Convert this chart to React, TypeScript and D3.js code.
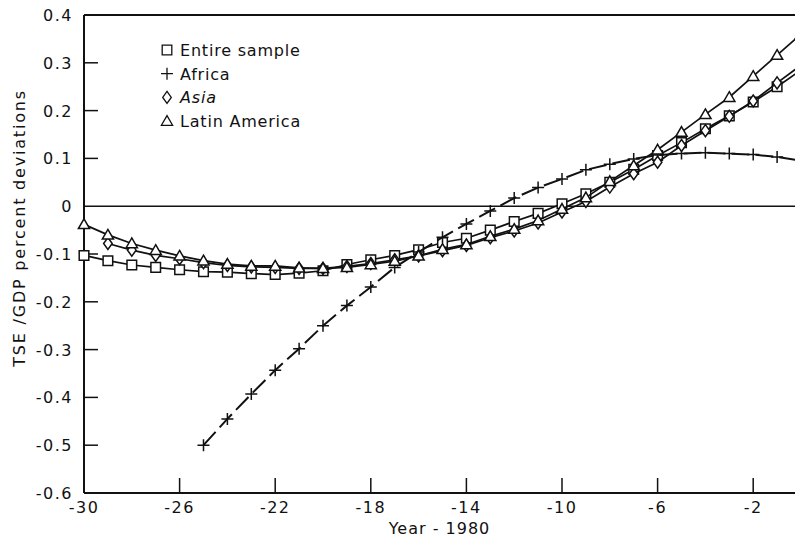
import React, { useEffect, useRef } from 'react';
import * as d3 from 'd3';

const years = d3.range(-30, 1);

// null where a series has no point
const entireSample = [
    -0.103, -0.114, -0.123, -0.128, -0.133, -0.137, -0.138, -0.141, -0.143, -0.140,
    -0.135, -0.122, -0.112, -0.103, -0.091, -0.076, -0.067, -0.050, -0.032, -0.015,
    0.005, 0.026, 0.050, 0.077, 0.106, 0.133, 0.162, 0.189, 0.218, 0.250, 0.285,
];
const africa = [
    null, null, null, null, null, -0.500, -0.445, -0.393, -0.343, -0.298,
    -0.250, -0.208, -0.169, -0.128, -0.096, -0.065, -0.037, -0.010, 0.017, 0.039,
    0.057, 0.076, 0.088, 0.099, 0.107, 0.110, 0.112, 0.110, 0.108, 0.103, 0.095,
];
const asia = [
    null, -0.078, -0.092, -0.103, -0.110, -0.118, -0.124, -0.127, -0.128, -0.130,
    -0.130, -0.126, -0.120, -0.112, -0.104, -0.093, -0.082, -0.066, -0.052, -0.035,
    -0.012, 0.010, 0.040, 0.068, 0.092, 0.127, 0.158, 0.188, 0.220, 0.258, 0.295,
];
const latinAmerica = [
    -0.038, -0.060, -0.078, -0.092, -0.104, -0.114, -0.121, -0.125, -0.125, -0.129,
    -0.130, -0.128, -0.122, -0.115, -0.104, -0.090, -0.080, -0.063, -0.048, -0.030,
    -0.006, 0.018, 0.052, 0.085, 0.118, 0.155, 0.192, 0.228, 0.272, 0.316, 0.360,
];

const xTicks = [-30, -26, -22, -18, -14, -10, -6, -2];
const yTicks = [0.4, 0.3, 0.2, 0.1, 0, -0.1, -0.2, -0.3, -0.4, -0.5, -0.6];

const seriesNames = ['Entire sample', 'Africa', 'Asia', 'Latin America'];

const markerPath: Record<string, string> = {
    square: 'M-4.8,-4.8H4.8V4.8H-4.8Z',
    plus: 'M-6,0H6M0,-6V6',
    diamond: 'M0,-6L4.3,0L0,6L-4.3,0Z',
    triangle: 'M0,-5.5L5.6,4.2L-5.6,4.2Z',
};

const FONT = '"DejaVu Sans", sans-serif';

const App: React.FC = () => {
    const chartRef = useRef<SVGSVGElement>(null);

    useEffect(() => {
        if (!chartRef.current) return;
        document.body.style.margin = '0';

        const svg = d3.select(chartRef.current);
        svg.selectAll('*').remove();

        const width = 795;
        const height = 542;

        const x = d3.scaleLinear().domain([-30, 0]).range([84, 801]);
        const y = d3.scaleLinear().domain([-0.6, 0.4]).range([493, 15]);

        svg.append('rect').attr('width', width).attr('height', height).attr('fill', 'white');

        const series = [
            { name: seriesNames[0], values: entireSample, marker: 'square', dash: null },
            { name: seriesNames[1], values: africa, marker: 'plus', dash: '18,6' },
            { name: seriesNames[2], values: asia, marker: 'diamond', dash: null },
            { name: seriesNames[3], values: latinAmerica, marker: 'triangle', dash: null },
        ];

        // frame: top line, left axis, bottom axis, zero line
        const frame = svg.append('g').attr('stroke', '#111').attr('fill', 'none');
        frame.append('line').attr('x1', x(-30)).attr('x2', width).attr('y1', y(0.4)).attr('y2', y(0.4)).attr('stroke-width', 2);
        frame.append('line').attr('x1', x(-30)).attr('x2', x(-30)).attr('y1', y(0.4)).attr('y2', y(-0.6)).attr('stroke-width', 2);
        frame.append('line').attr('x1', x(-30)).attr('x2', width).attr('y1', y(-0.6)).attr('y2', y(-0.6)).attr('stroke-width', 2);
        frame.append('line').attr('x1', x(-30)).attr('x2', width).attr('y1', y(0)).attr('y2', y(0)).attr('stroke-width', 1.6);

        // inward ticks
        frame.selectAll('line.xt')
            .data(xTicks.filter(d => d !== -30))
            .enter()
            .append('line')
            .attr('class', 'xt')
            .attr('x1', d => x(d))
            .attr('x2', d => x(d))
            .attr('y1', y(-0.6))
            .attr('y2', y(-0.6) - 15)
            .attr('stroke-width', 1.5);

        frame.selectAll('line.yt')
            .data(yTicks.filter(d => d !== 0.4 && d !== -0.6 && d !== 0))
            .enter()
            .append('line')
            .attr('class', 'yt')
            .attr('x1', x(-30))
            .attr('x2', x(-30) + 14)
            .attr('y1', d => y(d))
            .attr('y2', d => y(d))
            .attr('stroke-width', 1.5);

        svg.selectAll('text.x-label')
            .data(xTicks)
            .enter()
            .append('text')
            .attr('class', 'x-label')
            .attr('x', d => x(d))
            .attr('y', 513)
            .attr('text-anchor', 'middle')
            .attr('font-family', FONT)
            .attr('font-size', '16px')
            .attr('letter-spacing', '1.5px')
            .attr('fill', '#111')
            .text(d => String(d));

        svg.selectAll('text.y-label')
            .data(yTicks)
            .enter()
            .append('text')
            .attr('class', 'y-label')
            .attr('x', 73)
            .attr('y', d => y(d) + 6)
            .attr('text-anchor', 'end')
            .attr('font-family', FONT)
            .attr('font-size', '16px')
            .attr('letter-spacing', '1.5px')
            .attr('fill', '#111')
            .text(d => (d === 0 ? '0' : (d < 0 ? '-' : '') + Math.abs(d).toFixed(1)));

        svg.append('text')
            .attr('x', (x(-30) + width) / 2)
            .attr('y', 534)
            .attr('text-anchor', 'middle')
            .attr('font-family', FONT)
            .attr('font-size', '16px')
            .attr('letter-spacing', '1px')
            .attr('fill', '#111')
            .text('Year - 1980');

        svg.append('text')
            .attr('transform', 'translate(25,228) rotate(-90)')
            .attr('text-anchor', 'middle')
            .attr('font-family', FONT)
            .attr('font-size', '16px')
            .attr('letter-spacing', '1.8px')
            .attr('fill', '#111')
            .text('TSE /GDP percent deviations');

        // series lines and markers
        const line = d3.line<[number, number | null]>()
            .defined(d => d[1] !== null)
            .x(d => x(d[0]))
            .y(d => y(d[1] as number));

        series.forEach(s => {
            const pts = years.map((yr, i) => [yr, s.values[i]] as [number, number | null]);
            svg.append('path')
                .attr('d', line(pts))
                .attr('fill', 'none')
                .attr('stroke', '#111')
                .attr('stroke-width', s.dash ? 2 : 1.7)
                .attr('stroke-dasharray', s.dash ?? null);

            svg.append('g')
                .selectAll('path')
                .data(pts.filter(p => p[1] !== null))
                .enter()
                .append('path')
                .attr('transform', d => `translate(${x(d[0])},${y(d[1] as number)})`)
                .attr('d', markerPath[s.marker])
                .attr('fill', s.marker === 'plus' ? 'none' : 'white')
                .attr('stroke', '#111')
                .attr('stroke-width', 1.5);
        });

        // legend
        const legend = svg.append('g').attr('transform', 'translate(167,50)');
        series.forEach((s, i) => {
            legend.append('path')
                .attr('transform', `translate(0,${i * 23.7})`)
                .attr('d', markerPath[s.marker])
                .attr('fill', s.marker === 'plus' ? 'none' : 'white')
                .attr('stroke', '#111')
                .attr('stroke-width', 1.3);
            legend.append('text')
                .attr('x', 13)
                .attr('y', i * 23.7 + 6)
                .attr('font-family', FONT)
                .attr('font-size', '16px')
                .attr('letter-spacing', '0.8px')
                .attr('font-style', s.name === 'Asia' ? 'italic' : 'normal')
                .attr('fill', '#111')
                .text(s.name);
        });
    }, []);

    return (
        <div style={{ position: 'absolute', left: 0, top: 0 }}>
            <svg ref={chartRef} width={795} height={542} style={{ display: 'block' }}></svg>
        </div>
    );
};

export default App;
